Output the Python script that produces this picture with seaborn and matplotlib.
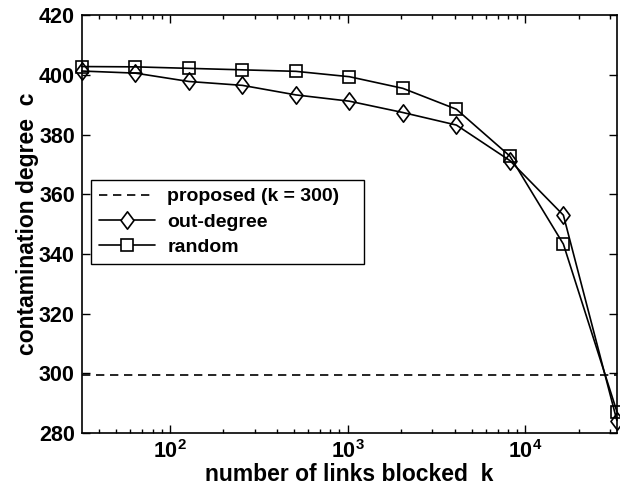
import numpy as np
import pandas as pd
import matplotlib
matplotlib.use("Agg")
import matplotlib.pyplot as plt
import seaborn as sns
from matplotlib.ticker import FixedLocator, FixedFormatter, LogLocator, NullFormatter
from matplotlib.lines import Line2D
from matplotlib.path import Path

# ---- data ----
k_values = [32, 64, 128, 256, 512, 1024, 2048, 4096, 8192, 16384, 32768]
outdegree_c = [401.3, 400.6, 397.8, 396.5, 393.3, 391.2, 387.4, 383.2, 371.3, 353.0, 284.2]
random_c = [402.8, 402.7, 402.2, 401.7, 401.2, 399.4, 395.5, 388.5, 372.8, 343.3, 287.2]
proposed_c = 299.5
series_names = ["out-degree", "random"]
proposed_label = "proposed (k = 300)"
x_label = "number of links blocked  k"
y_label = "contamination degree  c"
y_ticks = [280, 300, 320, 340, 360, 380, 400, 420]
x_major = [100, 1000, 10000]
x_major_labels = [r"$\mathbf{10^{2}}$", r"$\mathbf{10^{3}}$", r"$\mathbf{10^{4}}$"]

df = pd.DataFrame({
    "k": k_values * 2,
    "c": outdegree_c + random_c,
    "method": [series_names[0]] * len(k_values) + [series_names[1]] * len(k_values),
})

sns.set_style("ticks")
plt.rcParams["font.family"] = ["Liberation Sans", "DejaVu Sans"]
plt.rcParams["font.weight"] = "bold"
for key in ["text.color", "axes.labelcolor", "xtick.color", "ytick.color", "axes.edgecolor"]:
    plt.rcParams[key] = "black"
plt.rcParams["mathtext.fontset"] = "custom"
plt.rcParams["mathtext.rm"] = "Liberation Sans:bold"
plt.rcParams["mathtext.bf"] = "Liberation Sans:bold"
plt.rcParams["mathtext.it"] = "Liberation Sans:bold"

diamond = Path([(0, 1), (0.75, 0), (0, -1), (-0.75, 0), (0, 1)],
               [Path.MOVETO, Path.LINETO, Path.LINETO, Path.LINETO, Path.CLOSEPOLY])

fig = plt.figure(figsize=(6.2, 4.91), dpi=100)
ax = fig.add_axes([0.132, 0.118, 0.863, 0.851])

DASH = (5.0, 3.4)
ax.axhline(proposed_c, color="black", lw=1.2, dashes=DASH, label=proposed_label)

sns.lineplot(data=df, x="k", y="c", hue="method", style="method",
             markers={"out-degree": "D", "random": "s"}, dashes=False,
             palette={"out-degree": "black", "random": "black"},
             ax=ax, legend=False, lw=1.2, markersize=9,
             markerfacecolor="none", markeredgecolor="black", markeredgewidth=1.2)

for ln in ax.get_lines()[1:]:
    if ln.get_marker() == "D":
        ln.set_marker(diamond)
        ln.set_markersize(12.5)
    else:
        ln.set_markersize(8.4)
    ln.set_clip_on(False)

ax.set_xscale("log")
ax.set_xlim(32, 32768)
ax.set_ylim(280, 420)
ax.set_yticks(y_ticks)
ax.xaxis.set_major_locator(FixedLocator(x_major))
ax.xaxis.set_major_formatter(FixedFormatter(x_major_labels))
ax.xaxis.set_minor_locator(LogLocator(base=10, subs=np.arange(2, 10)))
ax.xaxis.set_minor_formatter(NullFormatter())

ax.tick_params(which="both", direction="in", top=True, right=True, width=1.0)
ax.tick_params(which="major", length=6, labelsize=15.5, pad=5)
ax.tick_params(which="minor", length=3)
for lab in ax.get_yticklabels():
    lab.set_fontweight("bold")
for sp in ax.spines.values():
    sp.set_linewidth(1.2)
    sp.set_visible(True)

ax.set_xlabel(x_label, fontsize=16.5, fontweight="bold", labelpad=0)
ax.set_ylabel(y_label, fontsize=16.5, fontweight="bold", labelpad=0)

handles = [
    Line2D([], [], color="black", lw=1.2, dashes=DASH),
    Line2D([], [], color="black", lw=1.2, marker=diamond, markersize=12.5, mfc="white", mec="black", mew=1.2),
    Line2D([], [], color="black", lw=1.2, marker="s", markersize=8.4, mfc="white", mec="black", mew=1.2),
]
labels = [proposed_label] + series_names
leg = ax.legend(handles, labels, loc="lower left", bbox_to_anchor=(0.017, 0.404, 0.51, 0.206),
                mode="expand", fontsize=14, frameon=True, fancybox=False, framealpha=1,
                edgecolor="black", handlelength=2.9, borderaxespad=0, labelspacing=0.4,
                borderpad=0.42, handletextpad=0.6)
leg.get_frame().set_linewidth(1.0)
for t in leg.get_texts():
    t.set_fontweight("bold")

fig.savefig("out.png", dpi=100)
